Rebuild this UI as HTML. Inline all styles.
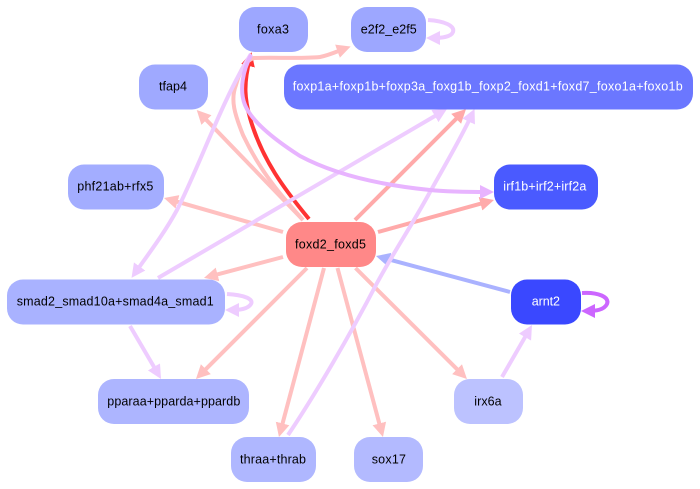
<!DOCTYPE html>
<html><head><meta charset="utf-8"><style>
html,body{margin:0;padding:0;background:#fff;width:700px;height:489px;overflow:hidden}
svg{display:block}
text{font-family:"Liberation Sans",sans-serif;font-size:12.5px;fill:#000}
text.w{fill:#fff}
.e{fill:none;stroke-width:4}
</style></head><body>
<svg width="700" height="489" viewBox="0 0 700 489" xmlns="http://www.w3.org/2000/svg">
<defs>
<marker id="p" markerUnits="userSpaceOnUse" markerWidth="16" markerHeight="16" refX="8" refY="8" orient="auto"><path d="M0,1L14,8L0,15z" fill="#ffc0c0"/></marker>
<marker id="q" markerUnits="userSpaceOnUse" markerWidth="16" markerHeight="16" refX="8" refY="8" orient="auto"><path d="M0,1L14,8L0,15z" fill="#ffaaaa"/></marker>
<marker id="v" markerUnits="userSpaceOnUse" markerWidth="16" markerHeight="16" refX="8" refY="8" orient="auto"><path d="M0,1L14,8L0,15z" fill="#eeccff"/></marker>
<marker id="u" markerUnits="userSpaceOnUse" markerWidth="16" markerHeight="16" refX="8" refY="8" orient="auto"><path d="M0,1L14,8L0,15z" fill="#e8b4ff"/></marker>
<marker id="r" markerUnits="userSpaceOnUse" markerWidth="16" markerHeight="16" refX="8" refY="8" orient="auto"><path d="M0,1L14,8L0,15z" fill="#ff3333"/></marker>
<marker id="b" markerUnits="userSpaceOnUse" markerWidth="16" markerHeight="16" refX="8" refY="8" orient="auto"><path d="M0,1L14,8L0,15z" fill="#aab2ff"/></marker>
<marker id="m" markerUnits="userSpaceOnUse" markerWidth="16" markerHeight="16" refX="8" refY="8" orient="auto"><path d="M0,1L14,8L0,15z" fill="#cc66ff"/></marker>
</defs>

<path class="e" stroke="#ff3333" marker-end="url(#r)" d="M309,219C285,190 262,160 250,118C245,100 243,85 250,58"/>
<g stroke="#ffc0c0" class="e">
<path class="e" marker-end="url(#p)" d="M303,220C285,200 262,175 243,135C235,115 230,100 236,85C240,70 246,60 254,58C275,57 300,59 320,57C330,55 338,51 345,48.5"/>
<path class="e" marker-end="url(#p)" d="M303,220L200.9,114.3"/>
<path class="e" marker-end="url(#p)" d="M283,232L169.8,199.6"/>
<path class="e" marker-end="url(#p)" d="M283,257L209.8,276.4"/>
<path class="e" marker-end="url(#p)" d="M307,268L200.2,374.8"/>
<path class="e" marker-end="url(#p)" d="M324,268L280.5,431.2"/>
<path class="e" marker-end="url(#p)" d="M337.5,268L381.4,431.2"/>
<path class="e" marker-end="url(#p)" d="M355.5,268L462.7,374.8"/>
</g>
<g stroke="#ffaaaa" class="e">
<path class="e" marker-end="url(#q)" d="M378,232L488.2,201.6"/>
<path class="e" marker-end="url(#q)" d="M355,220L461.8,113.2"/>
</g>
<path class="e" stroke="#aab2ff" marker-end="url(#b)" d="M510,292L381.8,257.6"/>
<g stroke="#eeccff" class="e">
<path class="e" marker-end="url(#v)" d="M251,54C222,100 200,165 177,210C165,232 150,252 135,273"/>
<path class="e" marker-end="url(#v)" d="M158,278L441.8,112"/>
<path class="e" marker-end="url(#v)" d="M288,435C315,395 350,335 377,283C395,250 412,225 430,192C445,165 460,140 472,114.3"/>
<path class="e" marker-end="url(#v)" d="M130,326L158,373.8"/>
<path class="e" marker-end="url(#v)" d="M502,377L529,330.2"/>
<path class="e" marker-end="url(#v)" d="M428,20C445,21 455,26 453,32C451,37 442,38 432,38"/>
<path class="e" marker-end="url(#v)" d="M227,294C244,295 254,299 251,304C248,309 240,310 231,310"/>
</g>
<path class="e" stroke="#e8b4ff" marker-end="url(#u)" d="M251,55C243,70 239,90 245,105C252,122 275,140 300,156C330,172 370,184 430,190C450,192 470,192 488,192"/>
<path class="e" stroke="#cc66ff" marker-end="url(#m)" d="M582,293C598,292 610,297 607,304C604,310 596,311 587,311"/>

<rect x="239" y="7" width="69" height="45" rx="16" fill="#9da7ff"/>
<rect x="351" y="7" width="75" height="45" rx="16" fill="#9da7ff"/>
<rect x="139" y="64.500" width="69" height="45" rx="16" fill="#9fa9ff"/>
<rect x="284" y="64.500" width="409" height="45" rx="16" fill="#6b77ff"/>
<rect x="494" y="164.500" width="104" height="45" rx="16" fill="#4a5aff"/>
<rect x="68" y="164.500" width="96" height="45" rx="16" fill="#a3adff"/>
<rect x="7" y="279.500" width="218" height="45" rx="16" fill="#a9b2ff"/>
<rect x="286" y="222" width="90" height="45" rx="16" fill="#ff8888"/>
<rect x="511" y="279.500" width="70" height="45" rx="16" fill="#3a48ff"/>
<rect x="98" y="379" width="151" height="45" rx="16" fill="#adb5ff"/>
<rect x="454" y="379" width="69" height="45" rx="16" fill="#bcc2ff"/>
<rect x="231" y="437" width="85" height="45" rx="16" fill="#afb7ff"/>
<rect x="354" y="437" width="69" height="45" rx="16" fill="#b3baff"/>

<text x="257" y="33.500" textLength="32" lengthAdjust="spacing">foxa3</text>
<text x="360.700" y="33.500" textLength="56" lengthAdjust="spacing">e2f2_e2f5</text>
<text x="159" y="90.500" textLength="28" lengthAdjust="spacing">tfap4</text>
<text class="w" x="292.700" y="90.500" textLength="390" lengthAdjust="spacing">foxp1a+foxp1b+foxp3a_foxg1b_foxp2_foxd1+foxd7_foxo1a+foxo1b</text>
<text class="w" x="503.300" y="190.500" textLength="83" lengthAdjust="spacing">irf1b+irf2+irf2a</text>
<text x="77.300" y="190.500" textLength="76" lengthAdjust="spacing">phf21ab+rfx5</text>
<text x="16.700" y="305.500" textLength="197" lengthAdjust="spacing">smad2_smad10a+smad4a_smad1</text>
<text x="295" y="248.500" textLength="71" lengthAdjust="spacing">foxd2_foxd5</text>
<text class="w" x="531.700" y="305.500" textLength="28.300" lengthAdjust="spacing">arnt2</text>
<text x="107.300" y="405.500" textLength="133" lengthAdjust="spacing">pparaa+pparda+ppardb</text>
<text x="474.300" y="405.500" textLength="27.300" lengthAdjust="spacing">irx6a</text>
<text x="240" y="463.500" textLength="66" lengthAdjust="spacing">thraa+thrab</text>
<text x="371.700" y="463.500" textLength="34.300" lengthAdjust="spacing">sox17</text>
</svg>
</body></html>
